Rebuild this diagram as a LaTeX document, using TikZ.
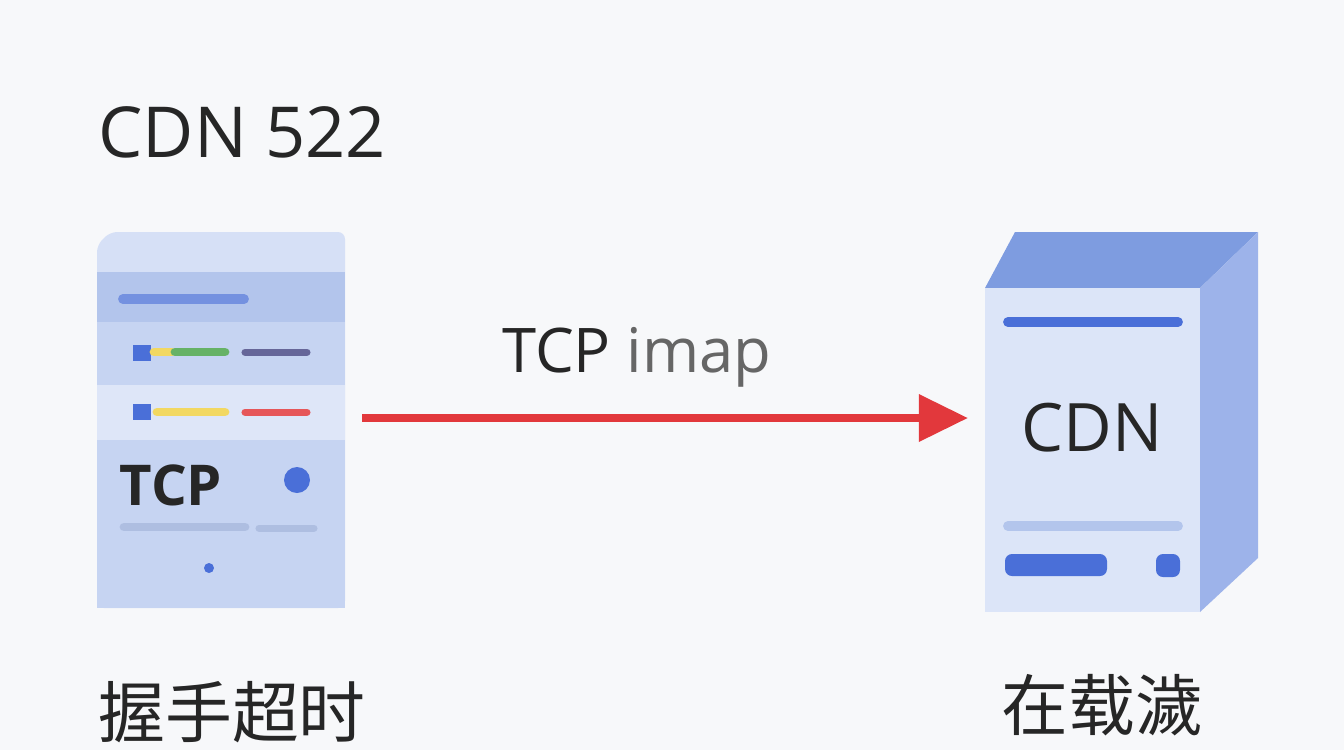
\documentclass[tikz,border=0pt]{standalone}
\usepackage{fontspec}
\setmainfont{Open Sans}
\newfontfamily\cjk{Noto Sans CJK SC}
\usepackage{xcolor}
\usetikzlibrary{arrows.meta,positioning}
\definecolor{pagebg}{HTML}{F7F8FA}
\definecolor{boxlight}{HTML}{D6E0F6}
\definecolor{boxmid}{HTML}{C6D4F2}
\definecolor{boxdark}{HTML}{B3C5EC}
\definecolor{blueline}{HTML}{4A6FD8}
\definecolor{cubetop}{HTML}{7E9CE0}
\definecolor{cubeside}{HTML}{9DB3EA}
\definecolor{cubefront}{HTML}{DCE5F8}
\definecolor{arrowred}{HTML}{E2383C}
\definecolor{softyellow}{HTML}{F2D862}
\tikzset{
  bar/.style={line width=#1, line cap=round},
  label/.style={font=\fontsize{20}{20}\selectfont, text=black!85},
  cjklabel/.style={font=\cjk\fontsize{19}{19}\selectfont, text=black!85},
}
\begin{document}
\begin{tikzpicture}[x=0.01cm,y=-0.01cm]
\fill[pagebg] (0,0) rectangle (1344,750);
\useasboundingbox (0,0) rectangle (1344,750);

% Title
\node[label, anchor=west] (title) at (86,132) {CDN 522};

% Left server
\fill[boxlight, rounded corners=2] (97,245) -- (110,232) -- (345,232) -- (345,608) -- (97,608) -- cycle;
\fill[boxdark] (97,272) rectangle (345,322);
\fill[boxmid] (97,322) rectangle (345,385);
\fill[boxlight!80!white] (97,385) rectangle (345,440);
\fill[boxmid] (97,440) rectangle (345,608);
\draw[bar=2.8pt, blueline!60!boxdark] (123,299) -- (244,299);
\fill[blueline] (133,345) rectangle (151,361);
\draw[bar=2.5pt, softyellow] (154,352) -- (172,352);
\draw[bar=2.5pt, green!50!black!60] (175,352) -- (225,352);
\draw[bar=2pt, gray!80!blue] (245,352) -- (307,352);
\fill[blueline] (133,404) rectangle (151,420);
\draw[bar=2.5pt, softyellow] (157,412) -- (225,412);
\draw[bar=2pt, arrowred!85] (245,412) -- (307,412);
\node[font=\bfseries\fontsize{16}{16}\selectfont, text=black!85] (tcpin) at (171,485) {TCP};
\fill[blueline] (297,480) circle (13);
\draw[bar=2.5pt, boxdark!90!gray] (124,527) -- (245,527);
\draw[bar=2pt, boxdark!90!gray] (259,528) -- (314,528);
\fill[blueline] (209,568) circle (5);

% Right server (cube)
\fill[cubetop] (985,288) -- (1015,232) -- (1258,232) -- (1200,288) -- cycle;
\fill[cubeside] (1200,288) -- (1258,232) -- (1258,558) -- (1200,612) -- cycle;
\fill[cubefront] (985,288) rectangle (1200,612);
\draw[bar=2.8pt, blueline] (1008,322) -- (1178,322);
\node[font=\fontsize{19}{19}\selectfont, text=black!85] (cdn) at (1092,428) {CDN};
\draw[bar=2.8pt, boxdark] (1008,526) -- (1178,526);
\fill[blueline, rounded corners=2] (1005,554) rectangle (1107,576);
\fill[blueline, rounded corners=2] (1156,554) rectangle (1180,577);
\coordinate (rightsrv) at (968,418);
\coordinate (leftsrv) at (362,418);

% Connector
\draw[arrowred, line width=2.3pt, -{Triangle[length=14pt,width=13pt]}] (leftsrv) -- (rightsrv);
\node[font=\fontsize{17.5}{17.5}\selectfont, text=black!85] (proto) at (637,357) {TCP \textcolor{black!60}{imap}};

% Bottom labels
\node[cjklabel, anchor=west] (lefttxt) at (86,712) {握手超时};
\node[cjklabel] (righttxt) at (1102,705) {在载濊};
\end{tikzpicture}
\end{document}
